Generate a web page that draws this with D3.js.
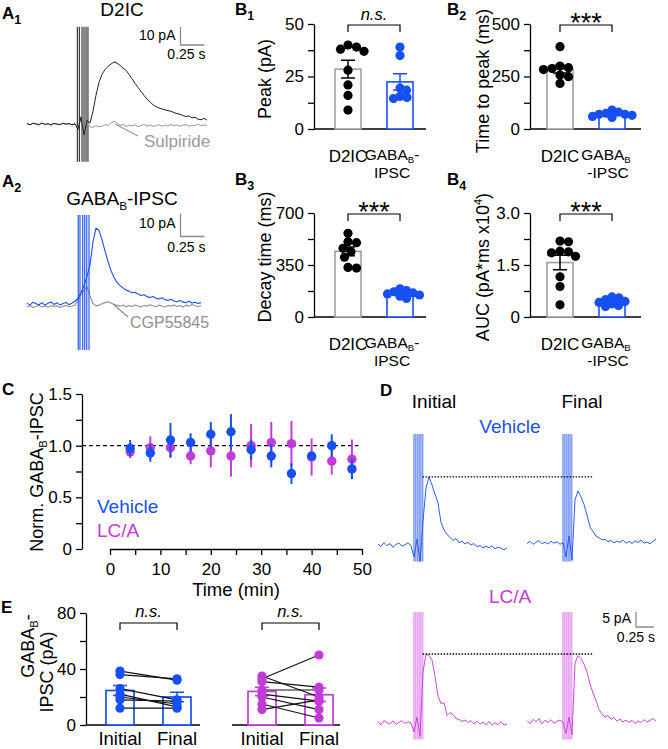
<!DOCTYPE html>
<html><head><meta charset="utf-8">
<script src="https://cdn.jsdelivr.net/npm/d3@7"></script>
<style>
body{margin:0;background:#fff;}
svg{display:block;}
</style></head><body>
<script>
// ================= DATA =================
// Panel B (bar + scatter)
const categoriesB = ["D2IC", "GABAB-IPSC"];
const peakD2IC = [38, 37, 40, 39, 28, 21, 16, 9];
const peakGABAB = [39, 35, 19.5, 18.5, 15.5, 14.5, 15];
const ttpD2IC = [392, 292, 288, 300, 283, 249, 257, 217];
const ttpGABAB = [90, 80, 75, 70, 65, 60, 55, 70];
const decayD2IC = [563, 507, 500, 462, 440, 402, 334, 329];
const decayGABAB = [190, 178, 170, 162, 155, 148, 140, 125];
const aucD2IC = [2.19, 2.17, 1.88, 1.85, 1.9, 1.75, 1.16, 0.88, 0.35];
const aucGABAB = [0.58, 0.5, 0.45, 0.42, 0.38, 0.33, 0.3, 0.55];
const peakTicks = [0, 25, 50], peakMinor = [12.5, 37.5];
const ttpTicks = [0, 250, 500], ttpMinor = [125, 375];
const decayTicks = [0, 350, 700], decayMinor = [175, 525];
const aucTicks = [0, 1.5, 3.0], aucMinor = [0.75, 2.25];

// Panel C (time course)
const timeMin = [4, 8, 12, 16, 20, 24, 28, 32, 36, 40, 44, 48];
const vehMean = [0.975, 0.93, 1.055, 1.03, 1.11, 1.135, 0.96, 0.9, 0.73, 0.9, 1.0, 0.775];
const vehSem  = [0.08, 0.085, 0.165, 0.09, 0.12, 0.17, 0.1, 0.11, 0.1, 0.03, 0.11, 0.1];
const lcaMean = [0.94, 0.98, 0.98, 0.9, 0.95, 0.9, 1.0, 1.03, 1.02, 0.89, 0.85, 0.87];
const lcaSem  = [0.06, 0.11, 0.1, 0.08, 0.16, 0.2, 0.21, 0.2, 0.22, 0.18, 0.13, 0.19];
const cTicksY = [0, 0.25, 0.5, 0.75, 1.0, 1.25, 1.5];
const cLabelsY = [0, 0.5, 1.0, 1.5];
const cTicksX = [0, 5, 10, 15, 20, 25, 30, 35, 40, 45, 50];
const cLabelsX = [0, 10, 20, 30, 40, 50];

// Panel E (paired)
const eCats = ["Initial", "Final"];
const vehInitial = [38.5, 36, 26, 22, 18, 12, 20];
const vehFinal   = [32, 33, 18, 13, 17, 12, 15];
const lcaInitial = [35, 33, 31, 25, 22, 20, 15, 11];
const lcaFinal   = [20, 50, 27, 25, 17, 11, 5, 18];
const eTicks = [0, 20, 40, 60, 80], eLabels = [0, 40, 80];

// Panel A traces (pA), one sample every 1/32 s
const aDt = 0.03125;
const a1D2IC = [0.3,-0.4,0.5,0.1,-0.3,0.6,-0.2,0.2,-0.5,0.4,0,-0.3,0.5,-0.1,0.3,-0.4,0.2,
  -3,4,-6,2,
  0.5,7.1,16,23.1,27.6,30.2,32,33.3,34.5,33.8,32.6,31.1,29.8,27.6,25.2,22.6,20.4,18.1,15.9,13.8,
  12.3,10.7,9.6,8.9,8.3,7.9,7.4,7.1,6.3,5.8,5.4,4.7,4.2,4.5,3.4,3.8,2.7,2.4,3.1,2.2];
const a1Sulpiride = [0.1,-0.5,0.3,-0.2,-0.6,0.4,-0.4,0,-0.7,0.2,-0.2,-0.5,0.3,-0.3,0.1,-0.6,-0.1,
  -2,3,-4,1,
  -1.5,-1.9,-1.0,-1.6,-1.2,-0.3,-0.8,0.6,1.6,0.5,-0.9,-0.2,-1.4,-0.6,-1.1,-0.4,-1.5,-0.8,-0.3,-1.2,
  -0.5,-1.4,-0.9,-0.4,-1.3,-0.6,-1.1,-0.2,-1.0,-0.5,-1.3,-0.7,-0.3,-1.2,-0.6,-0.9,-0.1,-1.0,-0.5,-0.8];
const a2GABAB = [0.4,-0.5,0.8,0.1,-0.3,0.6,-0.6,0.3,0.9,-0.2,0.5,-0.4,0.2,0.7,-0.3,0.4,1.2,
  2.5,5,8,12,
  17,27,33,32,28,23,18.5,14.5,11.5,9.4,8,7,6.1,5.6,4.9,5.1,4.3,3.7,4.0,3.2,
  2.8,3.3,2.5,2.2,2.7,1.9,1.5,2.1,1.3,1.0,1.5,0.8,0.6,1.2,0.4,0.8,0.2,0.6];
const a2CGP = [-1.2,-0.8,-1.5,-1.0,-0.6,-1.3,-0.9,-1.4,-0.7,-1.1,-0.8,-1.5,-1.0,-0.6,-1.2,-0.9,-0.4,
  1.5,4,6,7.5,
  3.5,0.2,-0.8,-0.5,0.1,0.6,1.0,0.4,-0.2,-0.6,-1.0,-0.5,-1.2,-0.7,-1.1,-0.4,-0.9,-1.3,-0.6,-1.0,
  -0.3,-0.8,-1.2,-0.5,-0.9,-1.4,-0.6,-1.0,-0.4,-1.1,-0.7,-1.3,-0.5,-0.9,-0.2,-0.8,-1.2,-0.6];
const a1StimTimes = [0.524, 0.545, 0.573, 0.594, 0.615, 0.635];
const a2StimTimes = [0.534, 0.552, 0.580, 0.601, 0.622, 0.646];
const a1StimRange = [-21, 54];
const a2StimRange = [-20, 38.7];

// Panel D traces (pA), one sample every 1/24 s
const dDt = 1 / 24;
const dVehInitial = [0.3,-0.5,0.8,-0.2,0.5,-0.8,0.2,0.6,-0.4,0.1,0.7,-0.3, -4,2,-5.5,
  8,19,22.7,20,17,14,7.5,5,3.5,2.6,1.5,2.2,0.8,1.2,0.4,0.9,0,0.5,-0.6,-0.2,-1,-0.4,-0.9,-0.3,-1.3,-0.7,-1.1,-1.6,-0.9];
const dVehFinal = [0.5,1.2,0.2,0.9,1.5,0.4,1.0,0.3,1.3,0.6,1.1,0.2,0.8, -4,3,-5,
  15,18,16,13.5,10,6,4.5,3,2.4,1.7,1.9,1.1,1.5,0.7,1.3,0.9,1.6,0.6,1.2,0.5,1.4,0.8,1.7,0.6,1.0,0.4,1.3,2.0];
const dLcaInitial = [0.4,-0.6,0.9,0.1,-0.3,0.7,-0.5,0.2,0.8,-0.2,0.4,0.0, -3,2,-4.5,
  17,23,22.5,21,15.5,9,6.5,6.8,2.5,3.5,2.8,1.5,1.2,0.5,1.0,0.2,0.8,-0.3,0.6,-0.4,0.3,-0.6,0.5,-0.8,0.1,-0.5,0.4,-0.7,-0.2];
const dLcaFinal = [0.8,-0.2,1.2,0.4,1.5,-0.3,0.9,0.2,1.1,-0.1,0.6,1.0,0.3, -3.5,2,-4,
  20,22.5,21.5,19.5,17,13,10,7.5,4.5,3,2,2.5,1.2,1.8,0.6,1.3,0.4,1.0,0.2,0.9,-0.2,0.7,0.1,1.1,0.3,0.8,1.5,0.6];
const dStimTimes = [0.5, 0.524, 0.548, 0.572, 0.596, 0.62];
const dStimRange = [-5.5, 37];

// ================= DRAWING =================
const FONT = '"Liberation Sans", Arial, Helvetica, sans-serif';
const BLUE = "#1750f2", MAG = "#c23ad8";
const svg = d3.select("body").append("svg").attr("width", 668).attr("height", 749)
  .style("font-family", FONT);

function text(x, y, s, o = {}) {
  const t = svg.append("text").attr("x", x).attr("y", y).attr("font-size", o.size || 18)
    .attr("fill", o.color || "#000").attr("text-anchor", o.anchor || "start");
  if (o.italic) t.attr("font-style", "italic");
  if (o.bold) t.attr("font-weight", "bold");
  if (s !== null) t.text(s);
  return t;
}
function gaba(t, post, dyb = 4) {
  t.append("tspan").text("GABA");
  t.append("tspan").attr("font-size", "0.62em").attr("dy", dyb).text("B");
  if (post) t.append("tspan").attr("dy", -dyb).text(post);
}
function panelLabel(x, y, L, sub) {
  const t = text(x, y, L, { size: 17, bold: true });
  if (sub) t.append("tspan").attr("font-size", 12.5).attr("dy", 5).text(sub);
}
function vlabel(cx, cy, build, size = 18) {
  const t = svg.append("text").attr("transform", `translate(${cx},${cy}) rotate(-90)`)
    .attr("text-anchor", "middle").attr("dy", "0.35em").attr("font-size", size);
  build(t);
  return t;
}
function styleAxis(g, size = 17) {
  g.attr("font-family", FONT).attr("font-size", size);
  g.selectAll("path,line").attr("stroke", "#000").attr("stroke-width", 1.3);
  g.selectAll("text").attr("fill", "#000");
}

// ---- traces ----
function traceScales(x0, pps, y0, ppa) {
  return {
    x: d3.scaleLinear().domain([0, 1]).range([x0, x0 + pps]),
    y: d3.scaleLinear().domain([0, 1]).range([y0, y0 - ppa])
  };
}
function drawTrace(vals, dt, sc, color, w = 1) {
  svg.append("path").datum(vals)
    .attr("d", d3.line().x((d, i) => sc.x(i * dt)).y(d => sc.y(d)))
    .attr("fill", "none").attr("stroke", color).attr("stroke-width", w).attr("stroke-linejoin", "round");
}
function drawStim(times, range, sc, color, w = 1) {
  svg.append("g").selectAll("line").data(times).join("line")
    .attr("x1", d => sc.x(d)).attr("x2", d => sc.x(d))
    .attr("y1", sc.y(range[0])).attr("y2", sc.y(range[1]))
    .attr("stroke", color).attr("stroke-width", w);
}
function scaleBar(x, yb, pa, sec, sc, lblPa, lblS, pyPa, pyS) {
  const h = sc.y(0) - sc.y(pa), wd = sc.x(sec) - sc.x(0);
  svg.append("path").attr("d", `M${x},${yb - h}V${yb}H${x + wd}`)
    .attr("fill", "none").attr("stroke", "#8c8c8c").attr("stroke-width", 1.3);
  text(x - 5, pyPa, lblPa, { size: 14, anchor: "end" });
  text(x + wd + 1, pyS, lblS, { size: 14, anchor: "end" });
}

// A1
panelLabel(2, 19, "A", "1");
text(122, 16, "D2IC", { size: 19, anchor: "middle" });
const scA1 = traceScales(27, 96, 124, 1.8);
drawStim(a1StimTimes, a1StimRange, scA1, "#111", 1);
drawTrace(a1Sulpiride, aDt, scA1, "#9a9a9a", 1);
drawTrace(a1D2IC, aDt, scA1, "#222", 1);
svg.append("line").attr("x1", 115).attr("y1", 124).attr("x2", 138).attr("y2", 136).attr("stroke", "#9a9a9a").attr("stroke-width", 1.2);
text(144, 147, "Sulpiride", { size: 17, color: "#9a9a9a" });
scaleBar(180.5, 45, 10, 0.25, scA1, "10 pA", "0.25 s", 40, 59);

// A2
panelLabel(2, 187, "A", "2");
gaba(text(122, 205, null, { size: 19, anchor: "middle" }), "-IPSC", 5);
const scA2 = traceScales(27, 96, 304, 2.3);
drawTrace(a2CGP, aDt, scA2, "#8f8f8f", 1.1);
drawStim(a2StimTimes, a2StimRange, scA2, "#2a5af5", 1.2);
drawTrace(a2GABAB, aDt, scA2, BLUE, 1.1);
svg.append("line").attr("x1", 113).attr("y1", 304).attr("x2", 128).attr("y2", 317).attr("stroke", "#8f8f8f").attr("stroke-width", 1.2);
text(130, 328, "CGP55845", { size: 16, color: "#8f8f8f" });
scaleBar(180.5, 236.5, 10, 0.25, scA2, "10 pA", "0.25 s", 228, 252);

// ---- bar panels ----
function swarm(values, yS, r, f) {
  const placed = [], out = new Array(values.length);
  const order = values.map((v, i) => i).sort((a, b) => values[b] - values[a]);
  order.forEach(i => {
    const py = yS(values[i]);
    let best = 0;
    for (let k = 0; k < 400; k++) {
      const dx = (k % 2 ? 1 : -1) * Math.ceil(k / 2) * 0.5;
      if (placed.every(p => Math.hypot(p.dx - dx, p.py - py) >= 2 * r * f)) { best = dx; break; }
    }
    placed.push({ dx: best, py });
    out[i] = best;
  });
  return out;
}
function barPanel(o) {
  const g = svg.append("g");
  const y = d3.scaleLinear().domain([0, o.max]).range([o.y0, o.y1]);
  const x = d3.scalePoint().domain(categoriesB).range(o.xr).padding(0.5);
  const tv = o.ticks.concat(o.minor).sort((a, b) => a - b);
  const ga = g.append("g").attr("transform", `translate(${o.ax},0)`)
    .call(d3.axisLeft(y).tickValues(tv).tickSize(6).tickSizeOuter(0).tickPadding(4)
      .tickFormat(d => o.ticks.includes(d) ? o.fmt(d) : ""));
  styleAxis(ga);
  g.append("line").attr("x1", o.ax).attr("x2", o.xEnd).attr("y1", o.y0).attr("y2", o.y0)
    .attr("stroke", "#000").attr("stroke-width", 1.3);
  const groups = [
    { vals: o.d2, col: "#000", bar: "#a0a0a0" },
    { vals: o.gb, col: BLUE, bar: BLUE }
  ];
  groups.forEach((gr, gi) => {
    const cx = x(categoriesB[gi]);
    const m = d3.mean(gr.vals), s = d3.deviation(gr.vals) / Math.sqrt(gr.vals.length);
    g.append("rect").attr("x", cx - 13).attr("width", 26).attr("y", y(m)).attr("height", o.y0 - y(m))
      .attr("fill", "#fff").attr("stroke", gr.bar).attr("stroke-width", 1.6);
    g.append("path").attr("d", `M${cx},${y(m - s)}V${y(m + s)}M${cx - 7},${y(m + s)}H${cx + 7}M${cx - 7},${y(m - s)}H${cx + 7}`)
      .attr("stroke", gr.col).attr("stroke-width", 1.5).attr("fill", "none");
    const dx = swarm(gr.vals, y, 4.6, gi === 0 ? 0.9 : 0.72);
    g.append("g").selectAll("circle").data(gr.vals).join("circle")
      .attr("cx", (d, i) => cx + dx[i]).attr("cy", d => y(d)).attr("r", 4.6).attr("fill", gr.col);
  });
  // category labels
  const c0 = x(categoriesB[0]), c1 = x(categoriesB[1]);
  text(c0, o.y0 + 33, "D2IC", { size: 17, anchor: "middle" });
  if (o.hyphenFirst) {
    gaba(text(c1 - 8, o.y0 + 31, null, { size: 15.5, anchor: "middle" }), "-", 3);
    text(c1 - 8, o.y0 + 49, "IPSC", { size: 15.5, anchor: "middle" });
  } else {
    gaba(text(c1 - 6, o.y0 + 31, null, { size: 15.5, anchor: "middle" }), "", 3);
    text(c1 - 4, o.y0 + 49, "-IPSC", { size: 15.5, anchor: "middle" });
  }
  // significance
  const yb = o.y1 + 1;
  g.append("path").attr("d", `M${c0},${yb + 7}V${yb}H${c1}V${yb + 7}`)
    .attr("fill", "none").attr("stroke", "#000").attr("stroke-width", 1.2);
  if (o.sig === "n.s.") text((c0 + c1) / 2, yb - 5, "n.s.", { size: 16.5, anchor: "middle", italic: true });
  else text((c0 + c1) / 2, yb + 7, o.sig, { size: 27, anchor: "middle" });
  return { x, y };
}
panelLabel(235, 15, "B", "1");
barPanel({ ax: 314, xEnd: 426, xr: [322, 426], y0: 129, y1: 24, max: 50, ticks: peakTicks, minor: peakMinor,
  fmt: d => String(d), d2: peakD2IC, gb: peakGABAB, sig: "n.s.", hyphenFirst: true });
vlabel(265, 79, t => t.text("Peak (pA)"));

panelLabel(447, 15, "B", "2");
barPanel({ ax: 530, xEnd: 641, xr: [534, 638], y0: 129, y1: 24, max: 500, ticks: ttpTicks, minor: ttpMinor,
  fmt: d => String(d), d2: ttpD2IC, gb: ttpGABAB, sig: "***", hyphenFirst: false });
vlabel(483, 81, t => t.text("Time to peak (ms)"));

panelLabel(235, 185, "B", "3");
barPanel({ ax: 314, xEnd: 426, xr: [322, 426], y0: 317, y1: 213, max: 700, ticks: decayTicks, minor: decayMinor,
  fmt: d => String(d), d2: decayD2IC, gb: decayGABAB, sig: "***", hyphenFirst: true });
vlabel(265, 257, t => t.text("Decay time (ms)"));

panelLabel(447, 185, "B", "4");
barPanel({ ax: 530, xEnd: 641, xr: [534, 638], y0: 317, y1: 213, max: 3.0, ticks: aucTicks, minor: aucMinor,
  fmt: d => d === 0 ? "0" : d.toFixed(1), d2: aucD2IC, gb: aucGABAB, sig: "***", hyphenFirst: false });
vlabel(483, 267, t => {
  t.append("tspan").text("AUC (pA*ms x10");
  t.append("tspan").attr("font-size", "0.62em").attr("dy", -7).text("4");
  t.append("tspan").attr("dy", 7).text(")");
});

// ---- C: time course ----
panelLabel(2, 395, "C");
const cx = d3.scaleLinear().domain([0, 50]).range([110, 362]);
const cy = d3.scaleLinear().domain([0, 1.5]).range([549, 394]);
const gcy = svg.append("g").attr("transform", "translate(82,0)")
  .call(d3.axisLeft(cy).tickValues(cTicksY).tickSize(6).tickSizeOuter(0).tickPadding(4)
    .tickFormat(d => cLabelsY.includes(d) ? (d === 0 ? "0" : d.toFixed(1)) : ""));
styleAxis(gcy);
const gcx = svg.append("g").attr("transform", "translate(0,549)")
  .call(d3.axisBottom(cx).tickValues(cTicksX).tickSize(6).tickSizeOuter(0).tickPadding(8)
    .tickFormat(d => cLabelsX.includes(d) ? String(d) : ""));
styleAxis(gcx);
svg.append("line").attr("x1", 82).attr("x2", cx(49.3)).attr("y1", cy(1)).attr("y2", cy(1))
  .attr("stroke", "#000").attr("stroke-width", 1.4).attr("stroke-dasharray", "4,3");
function tcSeries(mean, sem, col) {
  const g = svg.append("g");
  g.selectAll("line").data(mean).join("line")
    .attr("x1", (d, i) => cx(timeMin[i])).attr("x2", (d, i) => cx(timeMin[i]))
    .attr("y1", (d, i) => cy(d - sem[i])).attr("y2", (d, i) => cy(d + sem[i]))
    .attr("stroke", col).attr("stroke-width", 2);
  g.selectAll("circle").data(mean).join("circle")
    .attr("cx", (d, i) => cx(timeMin[i])).attr("cy", d => cy(d)).attr("r", 4.7).attr("fill", col);
}
tcSeries(lcaMean, lcaSem, MAG);
tcSeries(vehMean, vehSem, BLUE);
text(97, 513, "Vehicle", { size: 19, color: BLUE });
text(97, 537, "LC/A", { size: 19, color: MAG });
text(236, 596, "Time (min)", { size: 18.5, anchor: "middle" });
vlabel(37, 472, t => { t.append("tspan").text("Norm. "); gaba(t, "-IPSC"); });

// ---- D: example traces ----
panelLabel(380, 396, "D");
text(434, 408, "Initial", { size: 19, anchor: "middle" });
text(582, 408, "Final", { size: 19, anchor: "middle" });
text(510, 433, "Vehicle", { size: 19, anchor: "middle", color: BLUE });
text(510, 603, "LC/A", { size: 19, anchor: "middle", color: MAG });
const dRows = [
  { y0: 545, ini: dVehInitial, fin: dVehFinal, col: "#2d5cf0", stim: "#86a0f5" },
  { y0: 723, ini: dLcaInitial, fin: dLcaFinal, col: "#cc44dd", stim: "#e9a6f2" }
];
dRows.forEach(r => {
  const s1 = traceScales(378, 72, r.y0, 3), s2 = traceScales(527, 72, r.y0, 3);
  drawStim(dStimTimes, dStimRange, s1, r.stim, 1.6);
  drawStim(dStimTimes, dStimRange, s2, r.stim, 1.6);
  drawTrace(r.ini, dDt, s1, r.col, 1);
  drawTrace(r.fin, dDt, s2, r.col, 1);
  const pk = d3.max(r.ini);
  svg.append("line").attr("x1", s1.x(dStimTimes[5])).attr("x2", 593).attr("y1", s1.y(pk)).attr("y2", s1.y(pk))
    .attr("stroke", "#000").attr("stroke-width", 1.3).attr("stroke-dasharray", "1.5,1.5");
});
scaleBar(636, 627, 5, 0.25, traceScales(636, 72, 627, 3), "5 pA", "0.25 s", 623, 642);

// ---- E: paired ----
panelLabel(1, 613, "E");
const ey = d3.scaleLinear().domain([0, 80]).range([725, 613]);
const gey = svg.append("g").attr("transform", "translate(86,0)")
  .call(d3.axisLeft(ey).tickValues(eTicks).tickSize(6).tickSizeOuter(0).tickPadding(4)
    .tickFormat(d => eLabels.includes(d) ? String(d) : ""));
styleAxis(gey);
vlabel(28, 646, t => gaba(t, "-"));
vlabel(47, 672, t => t.text("IPSC (pA)"));
function pairedGroup(range, xEnd0, xEnd1, ini, fin, col) {
  const x = d3.scalePoint().domain(eCats).range(range);
  svg.append("line").attr("x1", xEnd0).attr("x2", xEnd1).attr("y1", 725).attr("y2", 725)
    .attr("stroke", "#000").attr("stroke-width", 1.3);
  [ini, fin].forEach((vals, k) => {
    const c = x(eCats[k]);
    const m = d3.mean(vals), s = d3.deviation(vals) / Math.sqrt(vals.length);
    svg.append("rect").attr("x", c - 14).attr("width", 28).attr("y", ey(m)).attr("height", 725 - ey(m))
      .attr("fill", "#fff").attr("stroke", col).attr("stroke-width", 1.7);
    svg.append("path").attr("d", `M${c},${ey(m - s)}V${ey(m + s)}M${c - 7},${ey(m + s)}H${c + 7}M${c - 7},${ey(m - s)}H${c + 7}`)
      .attr("stroke", col).attr("stroke-width", 1.5).attr("fill", "none");
    text(c, 745, eCats[k], { size: 18.5, anchor: "middle" });
  });
  svg.append("g").selectAll("line").data(ini).join("line")
    .attr("x1", x(eCats[0])).attr("x2", x(eCats[1]))
    .attr("y1", d => ey(d)).attr("y2", (d, i) => ey(fin[i]))
    .attr("stroke", "#111").attr("stroke-width", 1.2);
  [ini, fin].forEach((vals, k) => {
    svg.append("g").selectAll("circle").data(vals).join("circle")
      .attr("cx", x(eCats[k])).attr("cy", d => ey(d)).attr("r", 4.6).attr("fill", col);
  });
  const a = x(eCats[0]), b = x(eCats[1]);
  svg.append("path").attr("d", `M${a},${630}V${623}H${b}V${630}`)
    .attr("fill", "none").attr("stroke", "#000").attr("stroke-width", 1.2);
  text((a + b) / 2, 617, "n.s.", { size: 16.5, anchor: "middle", italic: true });
}
pairedGroup([120, 177], 86, 200, vehInitial, vehFinal, BLUE);
pairedGroup([262, 319], 232, 340, lcaInitial, lcaFinal, MAG);
</script>
</body></html>
